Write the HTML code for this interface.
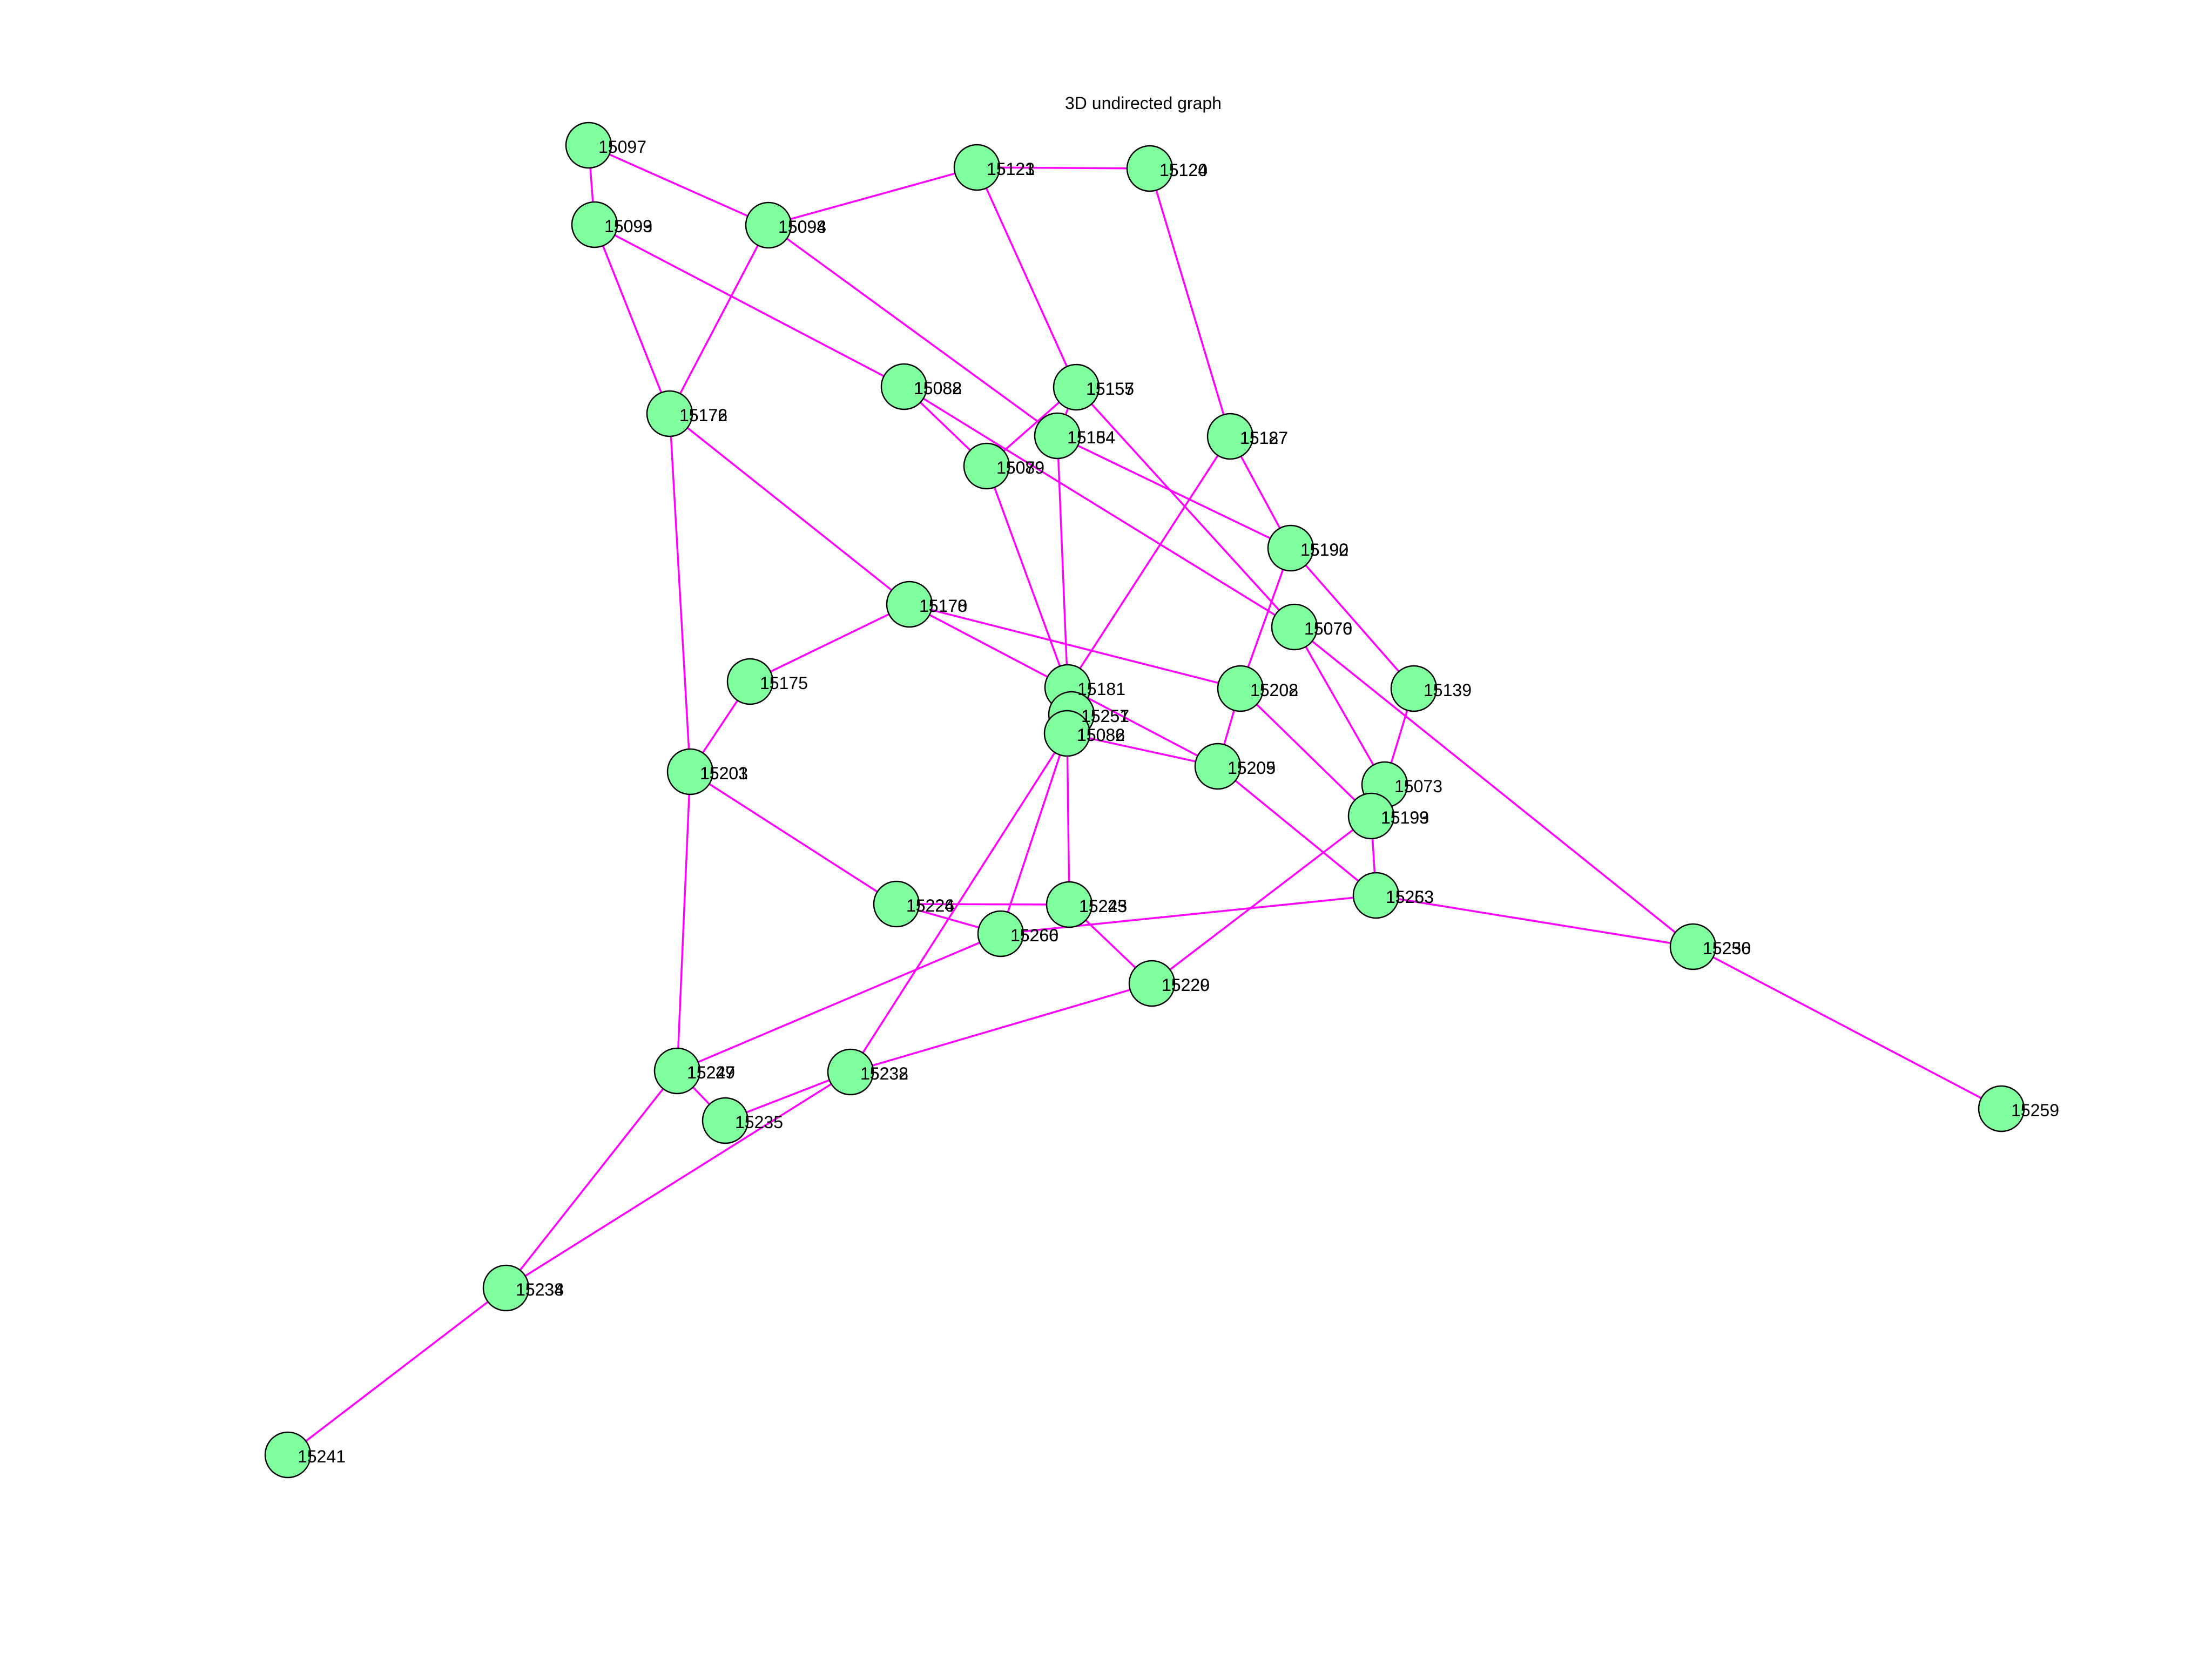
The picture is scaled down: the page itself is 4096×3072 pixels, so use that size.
<!DOCTYPE html>
<html><head><meta charset="utf-8"><style>
html,body{margin:0;padding:0;background:#fff;}
svg{display:block;}
text{font-family:"Liberation Sans",sans-serif;font-size:32px;fill:#000;}
</style></head><body>
<svg xmlns="http://www.w3.org/2000/svg" width="4096" height="3072" viewBox="0 0 4096 3072">
<rect width="4096" height="3072" fill="#fff"/>
<text x="1972" y="202">3D undirected graph</text>
<g stroke="#ff00ff" stroke-width="3.5" fill="none">
<line x1="1090" y1="269" x2="1101" y2="416"/>
<line x1="1090" y1="269" x2="1423" y2="417"/>
<line x1="1423" y1="417" x2="1809" y2="310"/>
<line x1="1809" y1="310" x2="2129" y2="312"/>
<line x1="1101" y1="416" x2="1240" y2="766"/>
<line x1="1101" y1="416" x2="1674" y2="716"/>
<line x1="1423" y1="417" x2="1240" y2="766"/>
<line x1="1423" y1="417" x2="1958" y2="807"/>
<line x1="1809" y1="310" x2="1993" y2="717"/>
<line x1="2129" y1="312" x2="2278" y2="808"/>
<line x1="1674" y1="716" x2="1827" y2="863"/>
<line x1="1674" y1="716" x2="2397" y2="1161"/>
<line x1="1993" y1="717" x2="1827" y2="863"/>
<line x1="1993" y1="717" x2="1958" y2="807"/>
<line x1="1993" y1="717" x2="2397" y2="1161"/>
<line x1="1958" y1="807" x2="2390" y2="1015"/>
<line x1="1958" y1="807" x2="1977" y2="1273"/>
<line x1="1827" y1="863" x2="1977" y2="1273"/>
<line x1="2278" y1="808" x2="2390" y2="1015"/>
<line x1="2278" y1="808" x2="1977" y2="1273"/>
<line x1="2390" y1="1015" x2="2297" y2="1275"/>
<line x1="2390" y1="1015" x2="2618" y2="1275"/>
<line x1="2397" y1="1161" x2="2564" y2="1453"/>
<line x1="2397" y1="1161" x2="3135" y2="1753"/>
<line x1="1240" y1="766" x2="1684" y2="1119"/>
<line x1="1240" y1="766" x2="1278" y2="1429"/>
<line x1="1684" y1="1119" x2="1389" y2="1262"/>
<line x1="1684" y1="1119" x2="2255" y2="1419"/>
<line x1="1684" y1="1119" x2="2297" y2="1275"/>
<line x1="1976" y1="1358" x2="2255" y2="1419"/>
<line x1="2297" y1="1275" x2="2255" y2="1419"/>
<line x1="2297" y1="1275" x2="2539" y2="1511"/>
<line x1="2618" y1="1275" x2="2564" y2="1453"/>
<line x1="2539" y1="1511" x2="2548" y2="1658"/>
<line x1="2255" y1="1419" x2="2548" y2="1658"/>
<line x1="2539" y1="1511" x2="2133" y2="1821"/>
<line x1="2548" y1="1658" x2="1853" y2="1729"/>
<line x1="2548" y1="1658" x2="3135" y2="1753"/>
<line x1="3135" y1="1753" x2="3706" y2="2053"/>
<line x1="1389" y1="1262" x2="1278" y2="1429"/>
<line x1="1278" y1="1429" x2="1660" y2="1674"/>
<line x1="1660" y1="1674" x2="1980" y2="1675"/>
<line x1="1660" y1="1674" x2="1853" y2="1729"/>
<line x1="1980" y1="1675" x2="2133" y2="1821"/>
<line x1="1976" y1="1358" x2="1980" y2="1675"/>
<line x1="1976" y1="1358" x2="1853" y2="1729"/>
<line x1="1976" y1="1358" x2="1575" y2="1985"/>
<line x1="1853" y1="1729" x2="1254" y2="1983"/>
<line x1="1278" y1="1429" x2="1254" y2="1983"/>
<line x1="1254" y1="1983" x2="1343" y2="2075"/>
<line x1="1254" y1="1983" x2="937" y2="2385"/>
<line x1="1575" y1="1985" x2="1343" y2="2075"/>
<line x1="1575" y1="1985" x2="2133" y2="1821"/>
<line x1="1575" y1="1985" x2="937" y2="2385"/>
<line x1="937" y1="2385" x2="533" y2="2694"/>
</g>
<g fill="#80ff9f" stroke="#000" stroke-width="2.5">
<circle cx="1090" cy="269" r="42"/>
<circle cx="1101" cy="416" r="42"/>
<circle cx="1423" cy="417" r="42"/>
<circle cx="1809" cy="310" r="42"/>
<circle cx="2129" cy="312" r="42"/>
<circle cx="1674" cy="716" r="42"/>
<circle cx="1993" cy="717" r="42"/>
<circle cx="1240" cy="766" r="42"/>
<circle cx="1958" cy="807" r="42"/>
<circle cx="1827" cy="863" r="42"/>
<circle cx="2278" cy="808" r="42"/>
<circle cx="2390" cy="1015" r="42"/>
<circle cx="2397" cy="1161" r="42"/>
<circle cx="1684" cy="1119" r="42"/>
<circle cx="1389" cy="1262" r="42"/>
<circle cx="1977" cy="1273" r="42"/>
<circle cx="1984" cy="1323" r="42"/>
<circle cx="1976" cy="1358" r="42"/>
<circle cx="2297" cy="1275" r="42"/>
<circle cx="2618" cy="1275" r="42"/>
<circle cx="2255" cy="1419" r="42"/>
<circle cx="2564" cy="1453" r="42"/>
<circle cx="2539" cy="1511" r="42"/>
<circle cx="2548" cy="1658" r="42"/>
<circle cx="1278" cy="1429" r="42"/>
<circle cx="1660" cy="1674" r="42"/>
<circle cx="1980" cy="1675" r="42"/>
<circle cx="1853" cy="1729" r="42"/>
<circle cx="2133" cy="1821" r="42"/>
<circle cx="3135" cy="1753" r="42"/>
<circle cx="3706" cy="2053" r="42"/>
<circle cx="1254" cy="1983" r="42"/>
<circle cx="1575" cy="1985" r="42"/>
<circle cx="1343" cy="2075" r="42"/>
<circle cx="937" cy="2385" r="42"/>
<circle cx="533" cy="2694" r="42"/>
</g>
<g>
<text x="1108" y="283">15097</text>
<text x="1119" y="430">15099</text><text x="1119" y="430">15093</text>
<text x="1441" y="431">15098</text><text x="1441" y="431">15094</text>
<text x="1827" y="324">15123</text><text x="1827" y="324">15121</text>
<text x="2147" y="326">15120</text><text x="2147" y="326">15124</text>
<text x="1692" y="730">15082</text><text x="1692" y="730">15088</text>
<text x="2011" y="731">15155</text><text x="2011" y="731">15157</text>
<text x="1258" y="780">15176</text><text x="1258" y="780">15172</text>
<text x="1976" y="821">15184</text><text x="1976" y="821">15154</text>
<text x="1845" y="877">15079</text><text x="1845" y="877">15089</text>
<text x="2296" y="822">15187</text><text x="2296" y="822">15127</text>
<text x="2408" y="1029">15192</text><text x="2408" y="1029">15190</text>
<text x="2415" y="1175">15070</text><text x="2415" y="1175">15076</text>
<text x="1702" y="1133">15170</text><text x="1702" y="1133">15178</text>
<text x="1407" y="1276">15175</text>
<text x="1995" y="1287">15181</text>
<text x="2002" y="1337">15257</text><text x="2002" y="1337">15251</text>
<text x="1994" y="1372">15086</text><text x="1994" y="1372">15082</text>
<text x="2315" y="1289">15208</text><text x="2315" y="1289">15202</text>
<text x="2636" y="1289">15139</text>
<text x="2273" y="1433">15209</text><text x="2273" y="1433">15205</text>
<text x="2582" y="1467">15073</text>
<text x="2557" y="1525">15199</text><text x="2557" y="1525">15193</text>
<text x="2566" y="1672">15263</text><text x="2566" y="1672">15253</text>
<text x="1296" y="1443">15203</text><text x="1296" y="1443">15201</text>
<text x="1678" y="1688">15226</text><text x="1678" y="1688">15224</text>
<text x="1998" y="1689">15225</text><text x="1998" y="1689">15243</text>
<text x="1871" y="1743">15260</text><text x="1871" y="1743">15266</text>
<text x="2151" y="1835">15220</text><text x="2151" y="1835">15229</text>
<text x="3153" y="1767">15250</text><text x="3153" y="1767">15236</text>
<text x="3724" y="2067">15259</text>
<text x="1272" y="1997">15227</text><text x="1272" y="1997">15249</text>
<text x="1593" y="1999">15232</text><text x="1593" y="1999">15238</text>
<text x="1361" y="2089">15235</text>
<text x="955" y="2399">15238</text><text x="955" y="2399">15234</text>
<text x="551" y="2708">15241</text>
</g>
</svg>
</body></html>
